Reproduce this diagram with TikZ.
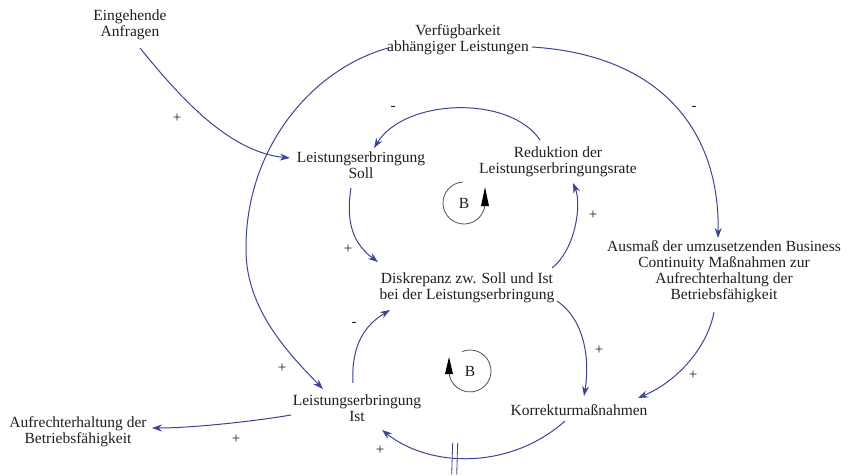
\documentclass[tikz,border=0pt]{standalone}
\usepackage{fontspec}
\setmainfont{Liberation Serif}
\usetikzlibrary{arrows.meta,calc}
\definecolor{linkblue}{RGB}{58,68,156}
\definecolor{txt}{RGB}{30,30,30}
\definecolor{loopgray}{RGB}{80,80,80}
\begin{document}
\begin{tikzpicture}[x=1pt,y=-1pt,
  var/.style={inner sep=0pt, align=center, text=txt, font=\fontsize{15.5}{16}\selectfont},
  link/.style={draw=linkblue, line width=1pt, -{Stealth[length=10pt,width=7pt]}},
  pol/.style={text=txt, font=\fontsize{15}{15}\selectfont, inner sep=0pt},
  loopline/.style={draw=loopgray, line width=0.8pt},
  looptip/.style={fill=black},
  delaybar/.style={draw=linkblue, line width=0.8pt},
]
\useasboundingbox (0,0) rectangle (849,475);

% variables
\node[var] (eing) at (130,24.5)  {Eingehende\\Anfragen};
\node[var] (verf) at (458,39.5)  {Verfügbarkeit\\abhängiger Leistungen};
\node[var] (soll) at (361,165.5) {Leistungserbringung\\Soll};
\node[var] (red)  at (558,162)   {Reduktion der\\Leistungserbringungsrate};
\node[var] (disk) at (467,287.5) {Diskrepanz zw. Soll und Ist\\bei der Leistungserbringung};
\node[var] (ausm) at (724,272)   {Ausmaß der umzusetzenden Business\\Continuity Maßnahmen zur\\Aufrechterhaltung der\\Betriebsfähigkeit};
\node[var] (ist)  at (357,408.5) {Leistungserbringung\\Ist};
\node[var] (korr) at (579,410.5) {Korrekturmaßnahmen};
\node[var] (aufr) at (78,432)    {Aufrechterhaltung der\\Betriebsfähigkeit};

% loop markers
\node[var] (loopA) at (464,203) {B};
\node[var] (loopB) at (470,371) {B};
\draw[loopline] ($(loopA)+(-93:21)$) arc[start angle=-93, end angle=-360, radius=21];
\fill[looptip] ($(loopA)+(17,3)$) -- ($(loopA)+(25,3)$) -- ($(loopA)+(21,-16)$) -- cycle;
\draw[loopline] ($(loopB)+(-112:21)$) arc[start angle=-112, end angle=180, radius=21];
\fill[looptip] ($(loopB)+(-25,3)$) -- ($(loopB)+(-17,3)$) -- ($(loopB)+(-21,-14)$) -- cycle;

% causal links
\draw[link] ($(eing)+(10,23.5)$) .. controls (182,100) and (230,152) .. ($(soll)+(-71,-7.5)$);
\draw[link] ($(verf)+(-70,8.5)$) .. controls (310,70) and (245,150) .. (246,250)
            .. controls (246,310) and (290,355) .. ($(ist)+(-34,-19.5)$);
\draw[link] ($(verf)+(74,7.5)$) .. controls (660,55) and (720,130) .. ($(ausm)+(-6,-34)$);
\draw[link] ($(red)+(-18,-22)$) .. controls (510,95) and (405,98) .. ($(soll)+(13,-17.5)$);
\draw[link] ($(soll)+(-10,22.5)$) .. controls (345,225) and (355,245) .. ($(disk)+(-89,-25.5)$);
\draw[link] ($(disk)+(85,-19.5)$) .. controls (575,250) and (582,205) .. ($(red)+(15,21)$);
\draw[link] ($(disk)+(90,13.5)$) .. controls (585,320) and (590,360) .. ($(korr)+(5,-14.5)$);
\draw[link] ($(ausm)+(-10,40)$) .. controls (708,345) and (680,380) .. ($(korr)+(59,-12.5)$);
\draw[link] ($(ist)+(-4,-25.5)$) .. controls (351,345) and (365,325) .. ($(disk)+(-77,22.5)$);
\draw[link] ($(ist)+(-66,6.5)$) .. controls (250,422) and (190,428) .. ($(aufr)+(74,-4)$);
\draw[link] ($(korr)+(-14,10.5)$) .. controls (510,470) and (430,468) .. coordinate[pos=0.58] (dly) ($(ist)+(25,21.5)$);

% delay mark
\draw[delaybar] ($(dly)+(-2.5,-15)$) -- ($(dly)+(-3.5,17)$);
\draw[delaybar] ($(dly)+(2.5,-15)$) -- ($(dly)+(1.5,17)$);

% polarities
\node[pol] (p1)  at (177,118) {+};
\node[pol] (p2)  at (282,368) {+};
\node[pol] (p3)  at (694,108) {-};
\node[pol] (p4)  at (393,108) {-};
\node[pol] (p5)  at (348,249) {+};
\node[pol] (p6)  at (593,215) {+};
\node[pol] (p7)  at (599,350) {+};
\node[pol] (p8)  at (693,375) {+};
\node[pol] (p9)  at (354,324) {-};
\node[pol] (p10) at (236,439) {+};
\node[pol] (p11) at (380,450) {+};
\end{tikzpicture}
\end{document}
